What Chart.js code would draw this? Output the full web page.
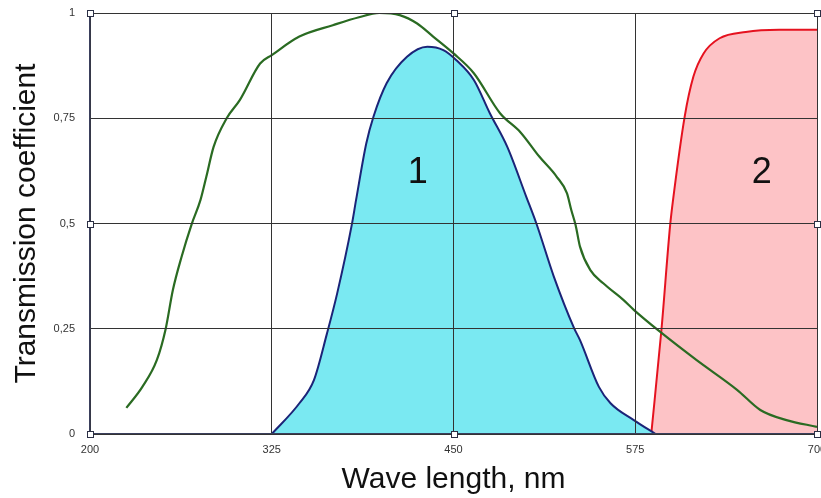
<!DOCTYPE html>
<html>
<head>
<meta charset="utf-8">
<script src="https://cdn.jsdelivr.net/npm/chart.js@4.4.0/dist/chart.umd.min.js"></script>
<style>
    html, body { margin: 0; padding: 0; background: #ffffff; }
    #wrap { width: 821px; height: 498px; }
</style>
</head>
<body>
<div id="wrap"><canvas id="chart" width="821" height="498"></canvas></div>
<script>
// Curvas de transmissão: sensor (verde), filtro 1 (azul) e filtro 2 (vermelho).

const xTicks = [200, 325, 450, 575, 700];
const yTicks = [0, 0.25, 0.5, 0.75, 1];

const sensorX = [225, 236, 246, 252, 257, 263, 270, 276, 280, 285, 294, 303, 317, 325, 344, 367, 385, 399, 413, 425, 436, 450, 464, 482, 496, 509, 521, 528, 531, 534, 537, 544, 553, 567, 574, 592, 617, 645, 661, 679, 700];
const sensorY = [0.062, 0.112, 0.176, 0.249, 0.342, 0.421, 0.499, 0.556, 0.611, 0.682, 0.750, 0.793, 0.880, 0.900, 0.944, 0.971, 0.990, 1.0, 0.995, 0.975, 0.944, 0.904, 0.857, 0.762, 0.717, 0.659, 0.611, 0.572, 0.532, 0.496, 0.445, 0.390, 0.358, 0.318, 0.295, 0.243, 0.176, 0.105, 0.057, 0.033, 0.017];

const filter1X = [325, 344, 354, 363, 370, 380, 383, 390, 395, 404, 418, 432, 443, 452, 464, 475, 487, 500, 507, 519, 533, 537, 550, 558, 574, 589];
const filter1Y = [0, 0.073, 0.128, 0.239, 0.334, 0.496, 0.556, 0.690, 0.754, 0.833, 0.896, 0.920, 0.912, 0.888, 0.841, 0.762, 0.682, 0.564, 0.500, 0.374, 0.251, 0.223, 0.112, 0.073, 0.033, 0];

const filter2X = [586, 593, 599, 601, 609, 615, 622, 633, 651, 674, 700];
const filter2Y = [0, 0.247, 0.496, 0.556, 0.754, 0.849, 0.904, 0.940, 0.955, 0.960, 0.960];

// marcadores quadrados nos cantos/meios da moldura
const handleX = [200, 450, 700, 200, 700, 200, 450, 700];
const handleY = [1, 1, 1, 0.5, 0.5, 0, 0, 0];

// rótulos "1" e "2" dentro das áreas
const tagText = ['1', '2'];
const tagX = [425.5, 662];
const tagY = [0.62, 0.62];

const FONT = "'Liberation Sans', Arial, sans-serif";
const pts = (xs, ys) => xs.map((x, i) => ({ x, y: ys[i] }));

const overlay = {
    id: 'overlay',
    afterDraw(chart) {
        const { ctx, scales: { x, y } } = chart;
        ctx.save();
        ctx.fillStyle = '#111111';
        ctx.font = `36px ${FONT}`;
        ctx.textAlign = 'center';
        ctx.textBaseline = 'middle';
        tagText.forEach((t, i) => ctx.fillText(t, x.getPixelForValue(tagX[i]), y.getPixelForValue(tagY[i])));

        ctx.lineWidth = 1;
        ctx.strokeStyle = '#2b2f45';
        ctx.fillStyle = '#ffffff';
        handleX.forEach((hx, i) => {
            const px = Math.round(x.getPixelForValue(hx)) + 0.5;
            const py = Math.round(y.getPixelForValue(handleY[i])) + 0.5;
            ctx.fillRect(px - 3, py - 3, 6, 6);
            ctx.strokeRect(px - 3, py - 3, 6, 6);
        });
        ctx.restore();
    },
};

const line = (data, color, fillColor, width) => ({
    data,
    borderColor: color,
    backgroundColor: fillColor || 'transparent',
    fill: fillColor ? 'origin' : false,
    borderWidth: width,
    pointRadius: 0,
    cubicInterpolationMode: 'monotone',
});

// o primeiro dataset fica por cima: verde sobre as áreas
new Chart(document.getElementById('chart'), {
    type: 'line',
    data: {
        datasets: [
            line(pts(sensorX, sensorY), '#2a6b22', null, 2.2),
            line(pts(filter1X, filter1Y), '#1b2478', '#7ae9f2', 2),
            line(pts(filter2X, filter2Y), '#e5121f', '#fdc3c6', 2),
        ],
    },
    options: {
        responsive: false,
        animation: false,
        layout: { padding: { left: 0, right: 4, top: 13, bottom: 0 } },
        plugins: { legend: { display: false }, tooltip: { enabled: false } },
        scales: {
            x: {
                type: 'linear',
                min: 200,
                max: 700,
                afterBuildTicks: (s) => { s.ticks = xTicks.map((v) => ({ value: v })); },
                afterFit: (s) => { s.height = 64; s.paddingLeft = 0; s.paddingRight = 0; },
                grid: { color: '#333333', lineWidth: 1, drawTicks: false, z: 1 },
                border: { color: '#3a3f5c', width: 1.5, z: 1 },
                ticks: { color: '#333333', padding: 9, font: { family: FONT, size: 11 } },
                title: {
                    display: true,
                    text: 'Wave length, nm',
                    color: '#111111',
                    font: { family: FONT, size: 30, lineHeight: 1.2 },
                    padding: { top: 0, bottom: 0 },
                },
            },
            y: {
                min: 0,
                max: 1,
                afterBuildTicks: (s) => { s.ticks = yTicks.map((v) => ({ value: v })); },
                afterFit: (s) => { s.width = 90; s.paddingTop = 0; s.paddingBottom = 0; },
                grid: { color: '#333333', lineWidth: 1, drawTicks: false, z: 1 },
                border: { color: '#3a3f5c', width: 1.5, z: 1 },
                ticks: {
                    color: '#333333',
                    padding: 15,
                    font: { family: FONT, size: 11 },
                    callback: (v) => String(v).replace('.', ','),
                },
                title: {
                    display: true,
                    text: 'Transmission coefficient',
                    color: '#111111',
                    font: { family: FONT, size: 30, lineHeight: 1.2 },
                    padding: { top: 9, bottom: 0 },
                },
            },
        },
    },
    plugins: [overlay],
});
</script>
</body>
</html>
